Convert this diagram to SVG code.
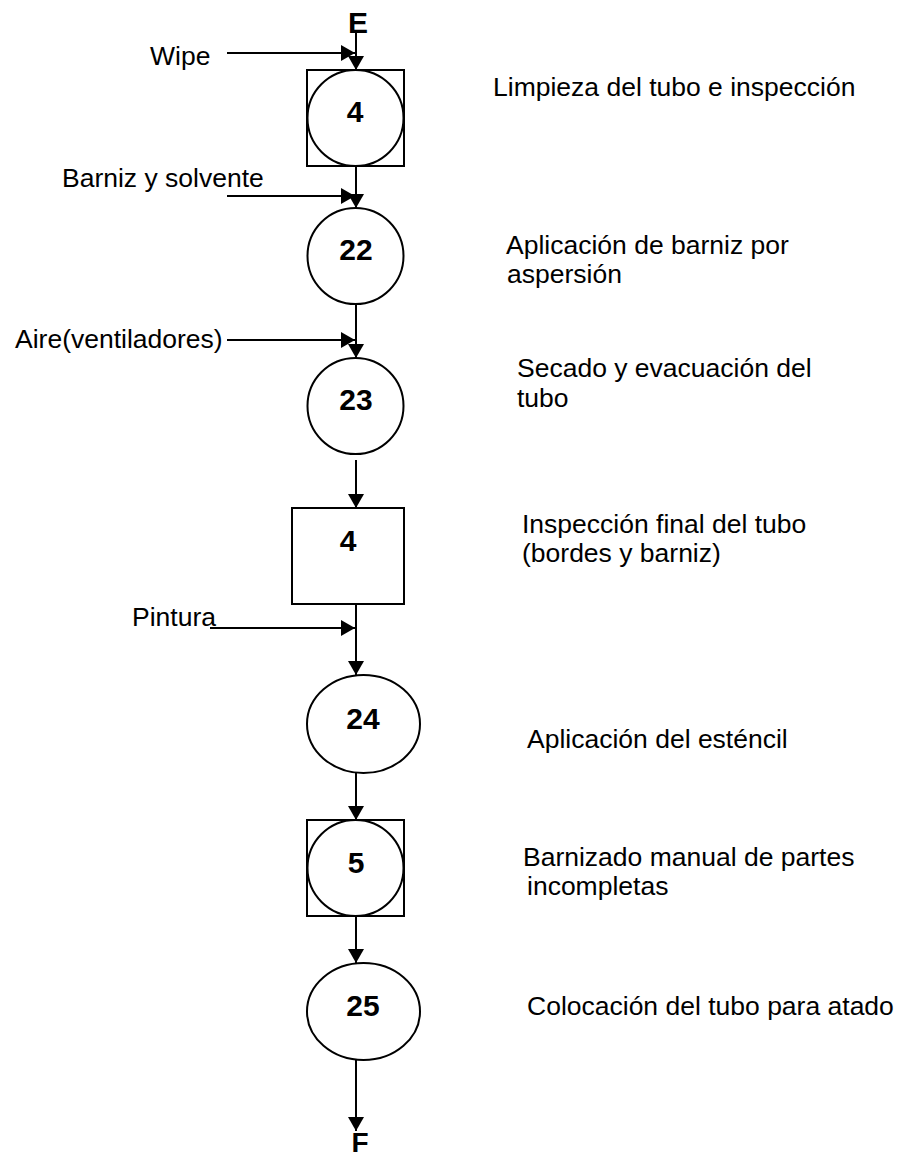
<svg xmlns="http://www.w3.org/2000/svg" width="910" height="1158" viewBox="0 0 910 1158">
<style>
.shape{fill:#fff;stroke:#000;stroke-width:2}
.num{font-family:"Liberation Sans",Arial,sans-serif;font-weight:bold;font-size:30px;text-anchor:middle;fill:#000}
.lbl{font-family:"Liberation Sans",Arial,sans-serif;font-size:26.5px;fill:#000}
.conn line{stroke:#000;stroke-width:2;marker-end:url(#ah)}
</style>
<defs>
<marker id="ah" markerUnits="userSpaceOnUse" markerWidth="15" markerHeight="16" refX="14" refY="8" orient="auto">
<path d="M0,0 L14,8 L0,16 z" fill="#000"/>
</marker>
</defs>
<rect width="910" height="1158" fill="#fff"/>
<g id="connectors" class="conn">
<line x1="356" y1="33" x2="356" y2="70"/>
<line x1="227" y1="53" x2="355" y2="53"/>
<line x1="356" y1="166" x2="356" y2="208"/>
<line x1="227" y1="196" x2="355" y2="196"/>
<line x1="356" y1="304" x2="356" y2="358"/>
<line x1="227" y1="340" x2="355" y2="340"/>
<line x1="356" y1="460" x2="356" y2="508"/>
<line x1="356" y1="604" x2="356" y2="675"/>
<line x1="210" y1="628" x2="355" y2="628"/>
<line x1="356" y1="773" x2="356" y2="820"/>
<line x1="356" y1="916" x2="356" y2="963"/>
<line x1="356" y1="1060" x2="356" y2="1131"/>
</g>
<g id="start"><text class="num" x="358" y="33">E</text></g>
<g id="node-4a">
<rect class="shape" x="307" y="70" width="97" height="96"/>
<circle class="shape" cx="355.5" cy="118" r="48"/>
<text class="num" x="355" y="122">4</text>
</g>
<g id="node-22">
<circle class="shape" cx="355.5" cy="256" r="48"/>
<text class="num" x="356" y="260">22</text>
</g>
<g id="node-23">
<circle class="shape" cx="355.5" cy="406" r="48"/>
<text class="num" x="356" y="410">23</text>
</g>
<g id="node-4b">
<rect class="shape" x="292" y="508" width="112" height="96"/>
<text class="num" x="348" y="551">4</text>
</g>
<g id="node-24">
<ellipse class="shape" cx="363.5" cy="724" rx="56.5" ry="49"/>
<text class="num" x="363" y="729">24</text>
</g>
<g id="node-5">
<rect class="shape" x="307" y="820" width="97" height="96"/>
<circle class="shape" cx="355.5" cy="868" r="48"/>
<text class="num" x="356" y="873">5</text>
</g>
<g id="node-25">
<ellipse class="shape" cx="363.5" cy="1011.5" rx="56.5" ry="48.5"/>
<text class="num" x="363" y="1016">25</text>
</g>
<g id="end"><text class="num" x="360" y="1152" style="font-size:28px">F</text></g>
<g id="inputs">
<text class="lbl" x="150" y="65">Wipe</text>
<text class="lbl" x="62" y="187">Barniz y solvente</text>
<text class="lbl" x="15" y="348">Aire(ventiladores)</text>
<text class="lbl" x="132" y="626">Pintura</text>
</g>
<g id="descriptions">
<text class="lbl" x="493" y="96">Limpieza del tubo e inspección</text>
<text class="lbl" x="506" y="254">Aplicación de barniz por</text>
<text class="lbl" x="507" y="283">aspersión</text>
<text class="lbl" x="517" y="377">Secado y evacuación del</text>
<text class="lbl" x="517" y="407">tubo</text>
<text class="lbl" x="522" y="533">Inspección final del tubo</text>
<text class="lbl" x="522" y="562">(bordes y barniz)</text>
<text class="lbl" x="527" y="748">Aplicación del esténcil</text>
<text class="lbl" x="523" y="866">Barnizado manual de partes</text>
<text class="lbl" x="527" y="895">incompletas</text>
<text class="lbl" x="527" y="1015">Colocación del tubo para atado</text>
</g>
</svg>
